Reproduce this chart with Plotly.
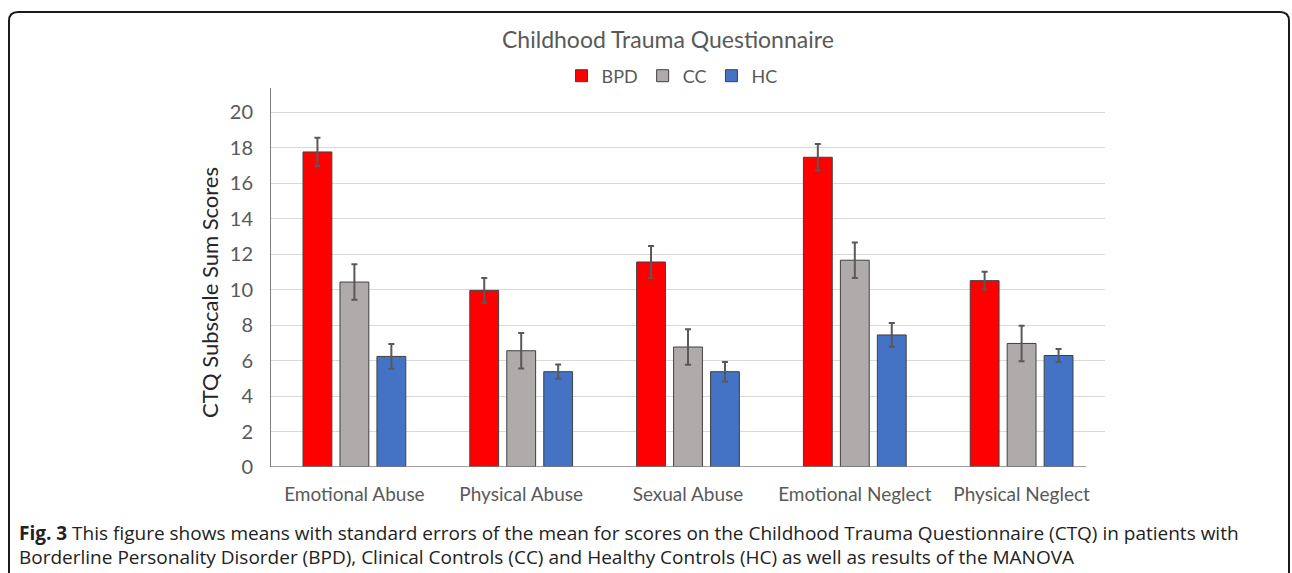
import plotly.graph_objects as go

categories = ["Emotional Abuse", "Physical Abuse", "Sexual Abuse", "Emotional Neglect", "Physical Neglect"]
bpd_mean = [17.75, 9.95, 11.55, 17.45, 10.5]
bpd_sem = [0.8, 0.7, 0.9, 0.75, 0.5]
cc_mean = [10.42, 6.55, 6.76, 11.65, 6.96]
cc_sem = [1.0, 1.0, 1.0, 1.0, 1.0]
hc_mean = [6.23, 5.37, 5.37, 7.44, 6.28]
hc_sem = [0.7, 0.4, 0.55, 0.67, 0.37]
y_ticks = [0, 2, 4, 6, 8, 10, 12, 14, 16, 18, 20]

W, H = 1292, 573
L, R, T, B = 271, 187, 88, 106
PW, PH = W - L - R, H - T - B


def px(x):
    return (x - L) / PW


def py(y):
    return (H - B - y) / PH


CHART_FONT = "Lato"
TXT = "#595959"
err_style = dict(type="data", visible=True, color="#595959", thickness=2, width=3)
outline = dict(color="#404040", width=1)

fig = go.Figure()
fig.add_trace(go.Bar(name="BPD", x=categories, y=bpd_mean,
                     error_y=dict(array=bpd_sem, **err_style),
                     marker=dict(color="#FF0000", line=outline)))
fig.add_trace(go.Bar(name="CC", x=categories, y=cc_mean,
                     error_y=dict(array=cc_sem, **err_style),
                     marker=dict(color="#AFABAB", line=outline)))
fig.add_trace(go.Bar(name="HC", x=categories, y=hc_mean,
                     error_y=dict(array=hc_sem, **err_style),
                     marker=dict(color="#4472C4", line=outline)))

fig.update_layout(
    width=W, height=H,
    margin=dict(l=L, r=R, t=T, b=B, autoexpand=False),
    paper_bgcolor="white", plot_bgcolor="white",
    barmode="group", bargap=0.335, bargroupgap=0.22,
    font=dict(family=CHART_FONT, color=TXT, size=17),
    showlegend=True,
    legend=dict(orientation="h", xref="container", yref="container",
                x=672 / W, xanchor="center", y=1 - 76 / H, yanchor="middle",
                font=dict(size=18, color=TXT), itemwidth=30, tracegroupgap=0,
                bgcolor="rgba(0,0,0,0)"),
    xaxis=dict(showline=False, ticks="", tickfont=dict(size=19, color=TXT),
               ticklabelstandoff=14, showgrid=False, zeroline=False),
    yaxis=dict(range=[0, PH / 17.75], tickvals=y_ticks, showgrid=True,
               gridcolor="#D9D9D9", gridwidth=1, zeroline=False,
               showline=True, linecolor="#7F7F7F", linewidth=1,
               ticks="", ticklabelstandoff=13,
               tickfont=dict(size=20, color=TXT)),
)

# x axis baseline (shorter than gridlines as in the original)
fig.add_shape(type="line", xref="paper", yref="y", x0=0, x1=px(1086), y0=0, y1=0,
              line=dict(color="#7F7F7F", width=1.5), layer="above")

# title and axis title
fig.add_annotation(text="Childhood Trauma Questionnaire", xref="paper", yref="paper",
                   x=px(668), y=py(39), showarrow=False, xanchor="center", yanchor="middle",
                   font=dict(family=CHART_FONT, size=23, color=TXT))
fig.add_annotation(text="CTQ Subscale Sum Scores", xref="paper", yref="paper",
                   x=px(209), y=py(293), showarrow=False, textangle=-90,
                   xanchor="center", yanchor="middle",
                   font=dict(family=CHART_FONT, size=22, color="#262626"))

# caption
CAP = "Open Sans"
fig.add_annotation(text="<b>Fig. 3</b> This figure shows means with standard errors of the mean for scores on the Childhood Trauma Questionnaire (CTQ) in patients with",
                   xref="paper", yref="paper", x=px(17), y=py(533), showarrow=False,
                   xanchor="left", yanchor="middle", font=dict(family=CAP, size=19, color="#222222"))
fig.add_annotation(text="Borderline Personality Disorder (BPD), Clinical Controls (CC) and Healthy Controls (HC) as well as results of the MANOVA",
                   xref="paper", yref="paper", x=px(17), y=py(557), showarrow=False,
                   xanchor="left", yanchor="middle", font=dict(family=CAP, size=19, color="#222222"))

# rounded border frame (open at the bottom)
r = 9
x0, x1, ytop, ybot = 9, 1289, 12, 590
path = (f"M {px(x0)} {py(ybot)} L {px(x0)} {py(ytop + r)} "
        f"Q {px(x0)} {py(ytop)} {px(x0 + r)} {py(ytop)} "
        f"L {px(x1 - r)} {py(ytop)} Q {px(x1)} {py(ytop)} {px(x1)} {py(ytop + r)} "
        f"L {px(x1)} {py(ybot)}")
fig.add_shape(type="path", xref="paper", yref="paper", path=path,
              line=dict(color="#1a1a1a", width=2))

fig.write_html("out.html", config={"displayModeBar": False},
               post_script="document.body.style.margin='0';document.body.style.overflow='hidden';")
